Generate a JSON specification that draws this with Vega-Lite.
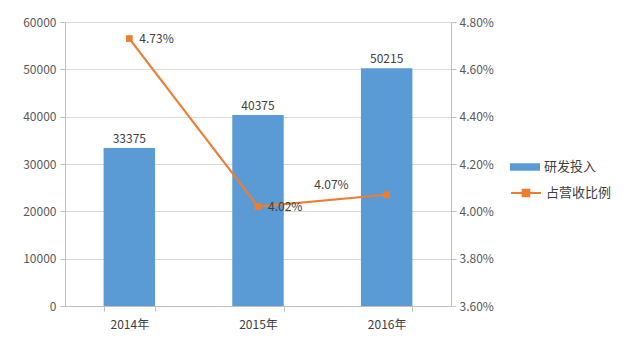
{
  "$schema": "https://vega.github.io/schema/vega-lite/v6.json",
  "width": 386,
  "height": 284,
  "autosize": "none",
  "padding": {"left": 65, "top": 22, "right": 189, "bottom": 45},
  "background": "white",
  "config": {
    "font": "Noto Sans CJK SC",
    "view": {"stroke": null},
    "axis": {
      "labelFont": "Noto Sans CJK SC",
      "labelFontSize": 12,
      "labelColor": "#595959",
      "domainColor": "#bfbfbf",
      "tickColor": "#bfbfbf",
      "gridColor": "#d9d9d9",
      "tickSize": 5,
      "title": null
    },
    "legend": {
      "labelFont": "Noto Sans CJK SC",
      "labelFontSize": 13,
      "labelColor": "#404040",
      "title": null,
      "orient": "none"
    }
  },
  "data": {
    "values": [
      {"year": "2014年", "rd": 33375, "ratio": 0.0473},
      {"year": "2015年", "rd": 40375, "ratio": 0.0402},
      {"year": "2016年", "rd": 50215, "ratio": 0.0407}
    ]
  },
  "encoding": {
    "x": {
      "field": "year",
      "type": "nominal",
      "sort": null,
      "scale": {"paddingInner": 0.6, "paddingOuter": 0.3},
      "axis": {"labelAngle": 0, "tickBand": "extent", "labelPadding": 8, "labelColor": "#404040"}
    }
  },
  "layer": [
    {
      "encoding": {
        "y": {
          "field": "rd",
          "type": "quantitative",
          "scale": {"domain": [0, 60000]},
          "axis": {"values": [0, 10000, 20000, 30000, 40000, 50000, 60000], "grid": true, "format": "d", "labelPadding": 4}
        }
      },
      "layer": [
        {
          "mark": {"type": "bar", "color": "#5B9BD5"},
          "encoding": {
            "fill": {
              "datum": "研发投入",
              "scale": {"range": ["#5B9BD5"]},
              "legend": {
                "legendX": 445,
                "legendY": 130,
                "symbolType": "M-1,-0.25H1V0.25H-1Z",
                "symbolSize": 900,
                "symbolStrokeWidth": 0,
                "labelOffset": 4
              }
            }
          }
        },
        {
          "mark": {"type": "text", "dy": -9, "fontSize": 12, "color": "#404040"},
          "encoding": {"text": {"field": "rd", "type": "quantitative", "format": "d"}}
        }
      ]
    },
    {
      "encoding": {
        "y": {
          "field": "ratio",
          "type": "quantitative",
          "scale": {"domain": [0.036, 0.048]},
          "axis": {"orient": "right", "format": ".2%", "grid": false, "values": [0.036, 0.038, 0.04, 0.042, 0.044, 0.046, 0.048], "labelPadding": 3}
        }
      },
      "layer": [
        {
          "mark": {"type": "line", "strokeWidth": 2.2},
          "encoding": {
            "stroke": {
              "datum": "占营收比例",
              "scale": {"range": ["#ED7D31"]},
              "legend": {
                "legendX": 445,
                "legendY": 155,
                "symbolType": "M-1,0H1M-0.22,-0.22H0.22V0.22H-0.22Z",
                "symbolSize": 900,
                "symbolStrokeWidth": 2,
                "symbolFillColor": "#ED7D31",
                "labelOffset": 4
              }
            }
          }
        },
        {
          "mark": {"type": "point", "shape": "square", "filled": true, "size": 45, "color": "#ED7D31", "opacity": 1}
        },
        {
          "transform": [{"filter": "datum.year !== '2016年'"}],
          "mark": {"type": "text", "align": "left", "dx": 10, "fontSize": 12, "color": "#404040"},
          "encoding": {"text": {"field": "ratio", "type": "quantitative", "format": ".2%"}}
        },
        {
          "transform": [{"filter": "datum.year === '2016年'"}],
          "mark": {"type": "text", "align": "right", "dx": -38, "dy": -10, "fontSize": 12, "color": "#404040"},
          "encoding": {"text": {"field": "ratio", "type": "quantitative", "format": ".2%"}}
        }
      ]
    }
  ],
  "resolve": {"scale": {"y": "independent", "fill": "independent", "stroke": "independent"}}
}
